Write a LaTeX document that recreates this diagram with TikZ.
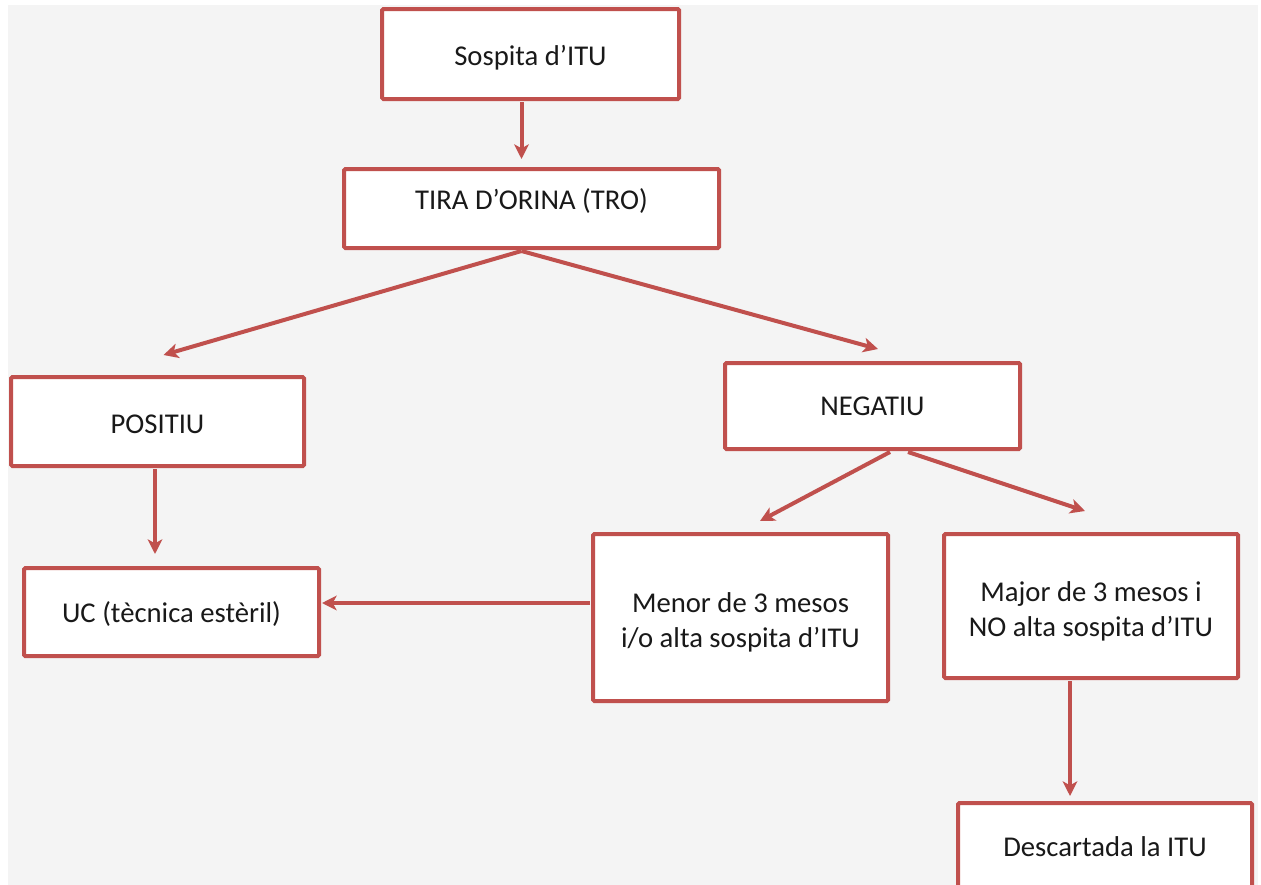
\documentclass[tikz,border=0pt]{standalone}
\usepackage{fontspec}
\setmainfont{Carlito}
\usetikzlibrary{arrows.meta,calc}
\definecolor{boxred}{HTML}{C0504D}
\definecolor{bggray}{HTML}{F4F4F4}
\tikzset{
  box/.style={draw=boxred, line width=3pt, fill=white, rounded corners=1pt,
    align=center, inner sep=0pt, font=\fontsize{21.5}{26.25}\selectfont, text=black!90},
  arr/.style={draw=boxred, line width=3pt,
    -{Stealth[length=11pt,width=11pt,inset=3pt]}}
}
\begin{document}
\begin{tikzpicture}[x=0.75pt,y=-0.75pt]
\clip (0,0) rectangle (1261,885);
\fill[white] (0,0) rectangle (1261,885);
\fill[bggray] (8,5) rectangle (1258,895);
\node[box, minimum width=297*0.75pt, minimum height=90*0.75pt] (s) at (530.5,54) {\rule{0pt}{20pt}Sospita d’ITU};
\node[box, minimum width=375*0.75pt, minimum height=79*0.75pt, text height=16pt, text depth=14pt] (t) at (531.5,208.5) {TIRA D’ORINA (TRO)};
\node[box, minimum width=293*0.75pt, minimum height=89*0.75pt] (p) at (157.5,421.5) {\rule{0pt}{18pt}POSITIU};
\node[box, minimum width=295*0.75pt, minimum height=86*0.75pt] (n) at (872.5,406) {NEGATIU};
\node[box, minimum width=295*0.75pt, minimum height=88*0.75pt] (u) at (171.5,612) {\rule{0pt}{18pt}UC (tècnica estèril)};
\node[box, minimum width=295*0.75pt, minimum height=167*0.75pt] (m) at (740.5,617.5) {\rule{0pt}{22.5pt}Menor de 3 mesos\\i/o alta sospita d’ITU};
\node[box, minimum width=294*0.75pt, minimum height=144*0.75pt] (j) at (1091,606) {\rule{0pt}{22.5pt}Major de 3 mesos i\\NO alta sospita d’ITU};
\node[box, minimum width=294*0.75pt, minimum height=88*0.75pt] (d) at (1105,847) {Descartada la ITU};
\draw[arr] ($(s.south)+(-9,1)$) -- ($(t.north)+(-10,-8)$);
\draw[arr] ($(t.south)+(-10,1)$) -- ($(p.north)+(6,-20)$);
\draw[arr] ($(t.south)+(-10,1)$) -- ($(n.north)+(5.5,-12)$);
\draw[arr] ($(p.south)+(-2.5,1)$) -- ($(u.north)+(-16.5,-12)$);
\draw[arr] ($(n.south)+(17.5,1)$) -- ($(m.north)+(19.5,-11)$);
\draw[arr] ($(n.south)+(35.5,1)$) -- ($(j.north)+(-6,-21)$);
\draw[arr] ($(m.west)+(-1,-14.5)$) -- ($(u.east)+(1,-9)$);
\draw[arr] ($(j.south)+(-21,1)$) -- ($(d.north)+(-35,-5)$);
\end{tikzpicture}
\end{document}
